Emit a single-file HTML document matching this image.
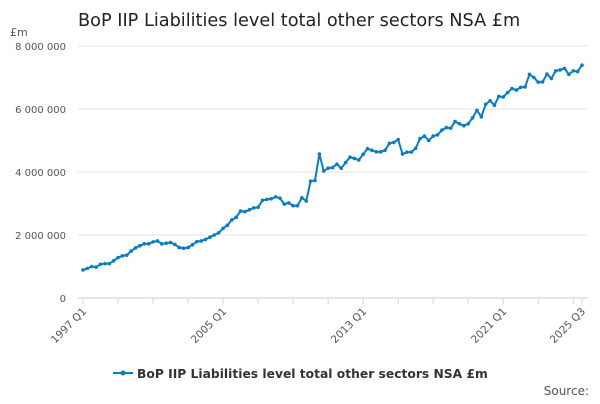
<!DOCTYPE html>
<html><head><meta charset="utf-8"><style>
body{margin:0;background:#fff;font-family:"DejaVu Sans",sans-serif;}
svg text{font-family:"DejaVu Sans",sans-serif;}
</style></head><body>
<svg id="chart" width="600" height="400">
<text x="78" y="26" font-size="17.7" fill="#222">BoP IIP Liabilities level total other sectors NSA £m</text>
<text x="10" y="36" font-size="11" fill="#555">£m</text>
<g id="grid"></g><g id="xaxis"></g><g id="series"></g>
<g>
<line x1="113" y1="373" x2="133" y2="373" stroke="#0a7dc2" stroke-width="2"/>
<circle cx="123" cy="373" r="2.5" fill="#0a7dc2"/>
<text x="137" y="378" font-size="12.3" font-weight="bold" fill="#333">BoP IIP Liabilities level total other sectors NSA £m</text>
</g>
<text x="589" y="395" font-size="12" fill="#555" text-anchor="end">Source:</text>
</svg>
<script>
const values=[0.89,0.94,1.0,0.98,1.07,1.09,1.09,1.18,1.28,1.34,1.36,1.49,1.59,1.66,1.72,1.72,1.78,1.81,1.72,1.74,1.76,1.70,1.60,1.58,1.60,1.69,1.79,1.81,1.86,1.93,2.0,2.07,2.21,2.31,2.48,2.56,2.76,2.74,2.80,2.86,2.88,3.10,3.13,3.15,3.21,3.17,2.98,3.02,2.93,2.93,3.18,3.08,3.71,3.73,4.57,4.03,4.12,4.14,4.25,4.12,4.30,4.47,4.43,4.38,4.56,4.74,4.69,4.64,4.64,4.69,4.91,4.94,5.03,4.57,4.63,4.63,4.75,5.06,5.14,5.0,5.14,5.18,5.33,5.41,5.39,5.6,5.53,5.47,5.53,5.72,5.96,5.75,6.15,6.26,6.12,6.4,6.38,6.52,6.65,6.6,6.69,6.7,7.1,7.0,6.85,6.86,7.11,6.97,7.21,7.24,7.29,7.1,7.21,7.19,7.39];
const yTicks=[0,2,4,6,8];
const yTickLabels=["0","2 000 000","4 000 000","6 000 000","8 000 000"];
const xLabelIdx=[0,32,64,96,114];
const xLabels=["1997 Q1","2005 Q1","2013 Q1","2021 Q1","2025 Q3"];
const NS="http://www.w3.org/2000/svg";
const x=i=>83+i*(499/114), y=v=>298-v*31.5;
const mk=(t,a,p)=>{const e=document.createElementNS(NS,t);for(const k in a)e.setAttribute(k,a[k]);p.appendChild(e);return e;};
const grid=document.getElementById('grid'),xa=document.getElementById('xaxis'),s=document.getElementById('series');
yTicks.forEach((v,i)=>{
 const l=mk('line',{x1:78,x2:588,y1:y(v),y2:y(v),stroke:v===0?'#ccc':'#e6e6e6'},grid);
 
 
 const t=mk('text',{x:66,y:y(v)+4,'font-size':10,fill:'#555','text-anchor':'end'},grid);t.textContent=yTickLabels[i];
 
 
});
for(let i=0;i<=114;i+=8){mk('line',{x1:x(i),x2:x(i),y1:298,y2:304,stroke:'#ccd6eb'},xa);}
mk('line',{x1:x(114),x2:x(114),y1:298,y2:304,stroke:'#ccd6eb'},xa);
xLabelIdx.forEach((idx,i)=>{
 const t=mk('text',{x:x(idx)+4,y:312,'font-size':10.5,fill:'#555','text-anchor':'end',transform:`rotate(-45 ${x(idx)+4} 312)`},xa);t.textContent=xLabels[i];
 
 
});
const p=mk('polyline',{points:values.map((v,i)=>x(i)+','+y(v)).join(' '),fill:'none',stroke:'#0a7dc2','stroke-width':2},s);


values.forEach((v,i)=>{const c=mk('circle',{cx:x(i),cy:y(v),r:1.8,fill:'#0a7dc2'},s);
 
 });
</script>
</body></html>
